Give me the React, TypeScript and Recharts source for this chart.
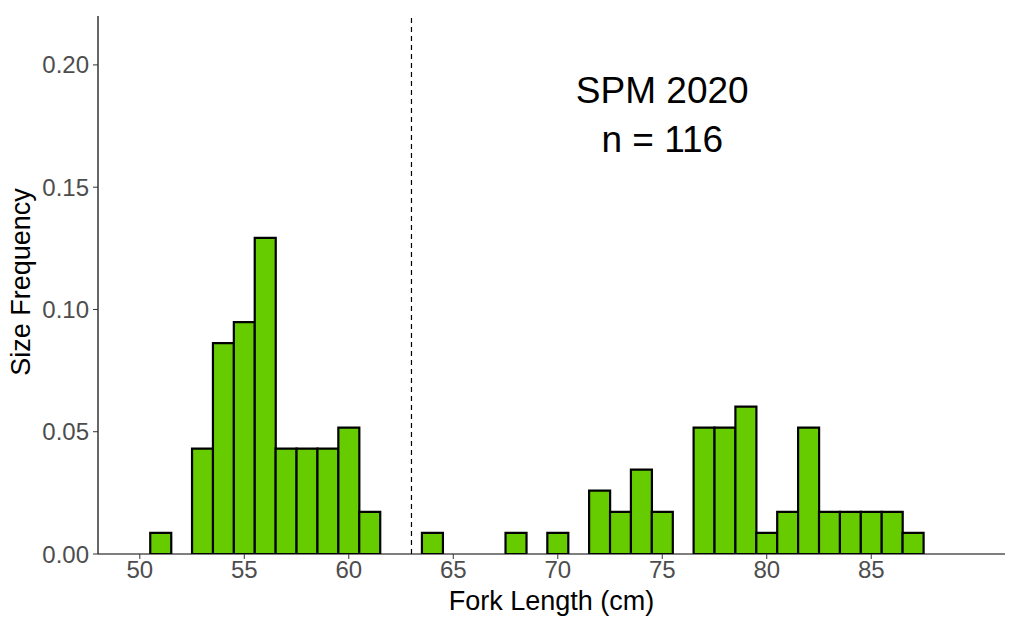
import React from 'react';
import { ComposedChart, Bar, XAxis, YAxis, ReferenceLine, ReferenceDot, Label } from 'recharts';

const forkLengths = [51, 53, 54, 55, 56, 57, 58, 59, 60, 61, 64, 68, 70, 72, 73, 74, 75, 77, 78, 79, 80, 81, 82, 83, 84, 85, 86, 87];
const sizeFrequency = [0.0086, 0.0431, 0.0862, 0.0948, 0.1293, 0.0431, 0.0431, 0.0431, 0.0517, 0.0172, 0.0086, 0.0086, 0.0086, 0.0259, 0.0172, 0.0345, 0.0172, 0.0517, 0.0517, 0.0603, 0.0086, 0.0172, 0.0517, 0.0172, 0.0172, 0.0172, 0.0172, 0.0086];
const xTicks = [50, 55, 60, 65, 70, 75, 80, 85];
const yTicks = [0, 0.05, 0.1, 0.15, 0.2];
const xDomain = [48, 91.4];
const yDomain = [0, 0.22];
const cutoffLength = 63;
const annotationLines = ['SPM 2020', 'n = 116'];
const annotationX = 75;
const annotationY = 0.179;

const data = forkLengths.map((len, i) => ({ len, freq: sizeFrequency[i] }));

const FONT = '"Liberation Sans", Arial, sans-serif';

const YLabel = (props: any) => {
  const vb = props.viewBox || {};
  const x = (vb.x || 0) + 21;
  const y = (vb.y || 0) + (vb.height || 0) / 2 - 3;
  return (
    <text x={x} y={y} transform={`rotate(-90, ${x}, ${y})`} textAnchor="middle" dominantBaseline="central"
      fontSize={27} fill="#000" fontFamily={FONT}>Size Frequency</text>
  );
};

const AnnotationLabel = (props: any) => {
  const vb = props.viewBox || {};
  const cx = (vb.x || 0) + (vb.width || 0) / 2;
  const cy = (vb.y || 0) + (vb.height || 0) / 2;
  return (
    <text x={cx} y={cy} textAnchor="middle" fontSize={37} fill="#000" fontFamily={FONT}>
      <tspan x={cx} y={cy - 13}>{annotationLines[0]}</tspan>
      <tspan x={cx} y={cy + 36}>{annotationLines[1]}</tspan>
    </text>
  );
};

export default function App() {
  return (
    <div style={{ position: 'absolute', left: 0, top: 0, width: 1009, height: 622, background: '#fff' }}>
      <ComposedChart width={1009} height={622} data={data} barCategoryGap={0} barGap={0}
        margin={{ top: 16, right: 4, left: 0, bottom: 0 }}>
        <XAxis dataKey="len" type="number" domain={xDomain} ticks={xTicks} allowDataOverflow
          height={68} tickSize={5} tickMargin={2}
          axisLine={{ stroke: '#000', strokeWidth: 1.2 }} tickLine={{ stroke: '#333', strokeWidth: 1 }}
          tick={{ fill: '#4d4d4d', fontSize: 24, fontFamily: FONT }}>
          <Label value="Fork Length (cm)" position="insideBottom" offset={12}
            style={{ fontSize: 27, fill: '#000', fontFamily: FONT }} />
        </XAxis>
        <YAxis type="number" domain={yDomain} ticks={yTicks} allowDataOverflow width={98}
          tickSize={5} tickMargin={4} tickFormatter={(v: number) => v.toFixed(2)}
          axisLine={{ stroke: '#000', strokeWidth: 1.2 }} tickLine={{ stroke: '#333', strokeWidth: 1 }}
          tick={{ fill: '#4d4d4d', fontSize: 24, fontFamily: FONT }}>
          <Label content={<YLabel />} />
        </YAxis>
        <Bar dataKey="freq" fill="#66cc00" stroke="#000" strokeWidth={2.2} isAnimationActive={false} />
        <ReferenceLine x={cutoffLength} stroke="#000" strokeWidth={1.2} strokeDasharray="5 4" />
        <ReferenceDot x={annotationX} y={annotationY} r={0} fill="none" stroke="none">
          <Label content={<AnnotationLabel />} />
        </ReferenceDot>
      </ComposedChart>
    </div>
  );
}
